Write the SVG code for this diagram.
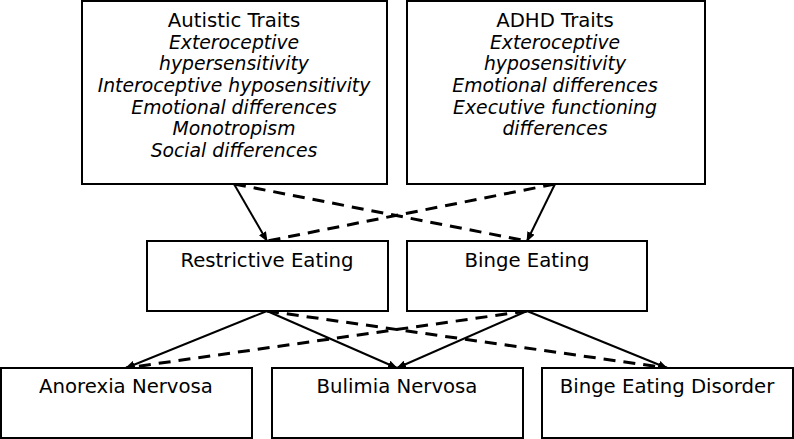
<svg xmlns="http://www.w3.org/2000/svg" width="794" height="439" viewBox="0 0 794 439">
<defs>
<style>
.box{fill:#fff;stroke:#000;stroke-width:2}
.t{font-family:"DejaVu Sans",sans-serif;font-size:19.7px;text-anchor:middle;fill:#000}
.i{font-style:italic;font-size:18.8px}
.s{stroke:#000;stroke-width:2;fill:none;marker-end:url(#ah)}
.d{stroke:#000;stroke-width:3;fill:none;stroke-dasharray:12,8}
</style>
<marker id="ah" markerWidth="10" markerHeight="8" refX="9" refY="4" orient="auto" markerUnits="userSpaceOnUse">
<path d="M0,0 L10,4 L0,8 Z" fill="#000"/>
</marker>
</defs>
<rect width="794" height="439" fill="#fff"/>
<g id="connectors">
<line class="s" x1="234" y1="184" x2="267" y2="241"/>
<line class="d" x1="234" y1="184" x2="527" y2="241"/>
<line class="s" x1="555" y1="184" x2="527" y2="241"/>
<line class="d" x1="555" y1="184" x2="267" y2="241"/>
<line class="s" x1="267" y1="311" x2="126" y2="368"/>
<line class="s" x1="267" y1="311" x2="397" y2="368"/>
<line class="d" x1="267" y1="311" x2="667" y2="368"/>
<line class="s" x1="527" y1="311" x2="397" y2="368"/>
<line class="s" x1="527" y1="311" x2="667" y2="368"/>
<line class="d" x1="527" y1="311" x2="126" y2="368"/>
</g>
<g id="autistic">
<rect class="box" x="82" y="1" width="305" height="183"/>
<text class="t" x="234" y="27">Autistic Traits</text>
<text class="t i" x="234" y="49">Exteroceptive</text>
<text class="t i" x="234" y="70">hypersensitivity</text>
<text class="t i" x="234" y="92">Interoceptive hyposensitivity</text>
<text class="t i" x="234" y="114">Emotional differences</text>
<text class="t i" x="234" y="135">Monotropism</text>
<text class="t i" x="234" y="157">Social differences</text>
</g>
<g id="adhd">
<rect class="box" x="407" y="1" width="298" height="183"/>
<text class="t" x="555" y="27">ADHD Traits</text>
<text class="t i" x="555" y="49">Exteroceptive</text>
<text class="t i" x="555" y="70">hyposensitivity</text>
<text class="t i" x="555" y="92">Emotional differences</text>
<text class="t i" x="555" y="114">Executive functioning</text>
<text class="t i" x="555" y="135">differences</text>
</g>
<g id="restrictive">
<rect class="box" x="147" y="241" width="241" height="70"/>
<text class="t" x="267" y="267">Restrictive Eating</text>
</g>
<g id="binge">
<rect class="box" x="407" y="241" width="240" height="70"/>
<text class="t" x="527" y="267">Binge Eating</text>
</g>
<g id="anorexia">
<rect class="box" x="1" y="368" width="251" height="70"/>
<text class="t" x="126" y="393">Anorexia Nervosa</text>
</g>
<g id="bulimia">
<rect class="box" x="272" y="368" width="251" height="70"/>
<text class="t" x="397" y="393">Bulimia Nervosa</text>
</g>
<g id="bed">
<rect class="box" x="542" y="368" width="251" height="70"/>
<text class="t" x="667" y="393">Binge Eating Disorder</text>
</g>
</svg>
